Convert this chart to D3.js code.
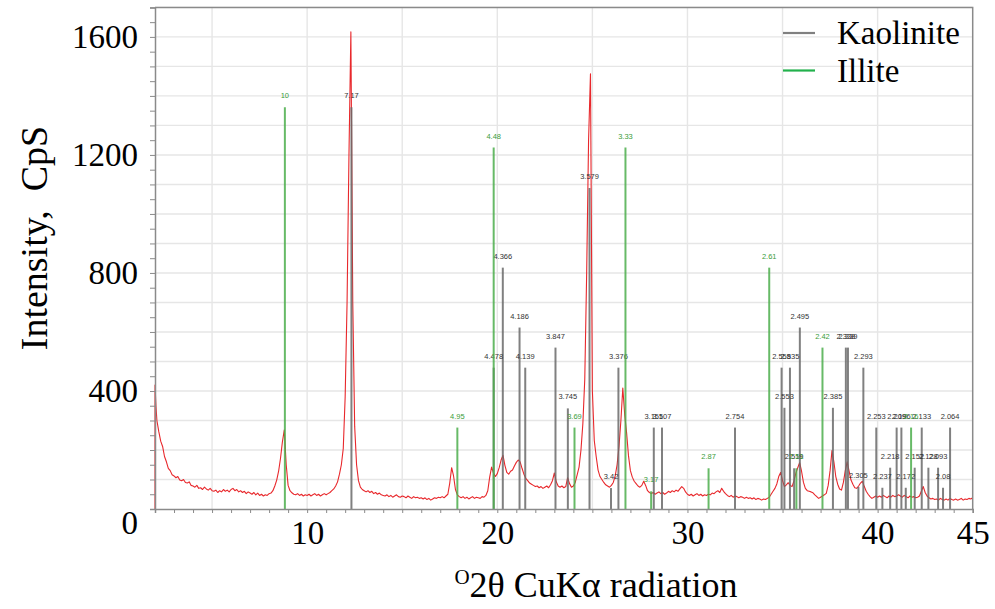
<!DOCTYPE html>
<html>
<head>
<meta charset="utf-8">
<script src="https://cdn.jsdelivr.net/npm/d3@7"></script>
<style>
  html, body { margin: 0; padding: 0; background: #ffffff; }
  svg { display: block; }
</style>
</head>
<body>
<svg id="chart" width="995" height="609"></svg>
<script>
// ---------------- DATA ----------------
// Measured scan (CpS) from 2.1 deg to 45.0 deg, step 0.1 deg 2-theta
const scanStart = 2.1;
const scanStep = 0.1;
const leadIn = [[2.0, 0], [2.0, 420], [2.05, 350]];
const counts = [
  300, 262, 230, 212, 178, 160, 138, 130, 116, 112,
  106, 110, 98, 96, 100, 90, 88, 92, 80, 78,
  74, 80, 70, 72, 66, 74, 68, 64, 70, 62,
  60, 64, 56, 62, 58, 66, 60, 64, 58, 66,
  70, 62, 66, 58, 62, 56, 60, 52, 58, 54,
  50, 56, 48, 54, 46, 50, 44, 48, 46, 52,
  54, 62, 78, 98, 128, 172, 228, 268, 150, 80,
  62, 55, 50, 48, 52, 46, 50, 44, 48, 46,
  50, 44, 48, 52, 46, 50, 44, 48, 52, 48,
  52, 56, 62, 68, 78, 92, 118, 150, 205, 380,
  700, 1200, 1617, 700, 280, 150, 96, 74, 66, 62,
  58, 62, 56, 60, 52, 56, 50, 54, 48, 46,
  44, 48, 42, 46, 40, 44, 48, 42, 40, 44,
  42, 38, 44, 40, 36, 42, 38, 40, 36, 38,
  34, 38, 32, 36, 30, 34, 38, 36, 40, 38,
  42, 38, 44, 50, 88, 140, 112, 66, 48, 42,
  38, 42, 36, 40, 34, 38, 42, 36, 40, 38,
  36, 42, 40, 46, 62, 108, 142, 122, 110, 120,
  140, 166, 182, 148, 124, 118, 128, 132, 146, 158,
  166, 160, 138, 118, 104, 96, 88, 84, 80, 76,
  78, 72, 76, 70, 74, 78, 72, 82, 96, 122,
  92, 78, 74, 78, 72, 76, 106, 86, 74, 78,
  90, 116, 142, 200, 290, 440, 800, 1250, 1475, 400,
  232, 178, 132, 110, 100, 90, 82, 78, 74, 80,
  90, 112, 150, 212, 300, 410, 320, 258, 180, 130,
  108, 94, 86, 78, 74, 80, 94, 80, 62, 56,
  52, 56, 50, 54, 58, 52, 56, 50, 54, 60,
  56, 62, 58, 64, 60, 68, 76, 70, 58, 50,
  46, 50, 44, 48, 52, 46, 50, 44, 48, 46,
  50, 48, 54, 52, 58, 62, 56, 70, 60, 52,
  46, 42, 46, 40, 44, 42, 38, 42, 40, 36,
  40, 36, 38, 34, 38, 32, 36, 34, 30, 34,
  32, 36, 40, 50, 60, 70, 85, 110, 124, 96,
  76, 82, 89, 80, 76, 95, 121, 140, 157, 128,
  90, 70, 62, 60, 58, 55, 48, 42, 36, 40,
  44, 48, 53, 80, 130, 198, 160, 110, 84, 68,
  64, 90, 130, 160, 128, 98, 84, 72, 70, 78,
  88, 94, 76, 60, 50, 42, 36, 40, 44, 40,
  44, 40, 46, 42, 38, 44, 40, 46, 42, 44,
  48, 44, 40, 46, 42, 38, 44, 40, 42, 38,
  40, 44, 60, 76, 56, 44, 38, 34, 36, 32,
  34, 30, 36, 32, 30, 34, 30, 36, 32, 30,
  34, 30, 32, 36, 30, 34, 32, 36, 34, 38
];

// Kaolinite reference sticks: 2-theta, intensity, d-spacing label
const kaoTheta = [12.33, 19.81, 20.29, 21.17, 21.47, 23.06, 23.71, 24.85, 25.98, 26.37,
  28.23, 28.66, 32.50, 34.95, 35.10, 35.39, 35.61, 35.91, 37.65, 38.33,
  38.44, 38.99, 39.25, 39.93, 40.25, 40.66, 41.00, 41.25, 41.48, 41.95,
  42.32, 42.67, 43.18, 43.44, 43.81];
const kaoInt = [1362, 479, 818, 615, 479, 547, 341, 1088, 71, 479,
  276, 276, 276, 479, 343, 479, 138, 615, 343, 547,
  547, 75, 479, 276, 72, 140, 276, 276, 72, 140,
  276, 140, 140, 72, 276];
const kaoLabel = ["7.17", "4.478", "4.366", "4.186", "4.139", "3.847", "3.745", "3.579", "3.42", "3.376",
  "3.155", "3.107", "2.754", "2.558", "2.553", "2.535", "2.519", "2.495", "2.385", "2.338",
  "2.339", "2.305", "2.293", "2.253", "2.237", "2.218", "2.209", "2.196", "2.172", "2.152",
  "2.133", "2.128", "2.093", "2.08", "2.064"];

// Illite reference sticks
const illTheta = [8.83, 17.90, 19.81, 24.06, 26.74, 28.09, 31.11, 34.30, 35.73, 37.10, 41.76];
const illInt = [1362, 276, 1225, 276, 1225, 60, 138, 818, 138, 547, 276];
const illLabel = ["10", "4.95", "4.48", "3.69", "3.33", "3.17", "2.87", "2.61", "2.51", "2.42", "2.16"];

const yTickLabels = [0, 400, 800, 1200, 1600];
const xTickLabels = [10, 20, 30, 40, 45];
const legendItems = ["Kaolinite", "Illite"];

// ---------------- CHART ----------------
const W = 995, H = 609;
const margin = { left: 155, right: 22.3, top: 7.4, bottom: 100 };
const svg = d3.select("#chart");
svg.append("rect").attr("width", W).attr("height", H).attr("fill", "#fff");

const x = d3.scaleLinear().domain([2, 45]).range([margin.left, W - margin.right]);
const y = d3.scaleLinear().domain([0, 1700]).range([H - margin.bottom, margin.top]);

const serif = "'Liberation Serif', 'Times New Roman', serif";

// grid
const grid = svg.append("g");
grid.selectAll("line.h").data(d3.range(100, 1701, 100)).join("line")
  .attr("x1", x(2)).attr("x2", x(45))
  .attr("y1", d => y(d)).attr("y2", d => y(d))
  .attr("stroke", "#e6e6e6").attr("stroke-width", 1.4);
grid.selectAll("line.v").data(d3.range(5, 45, 5)).join("line")
  .attr("y1", y(0)).attr("y2", y(1700))
  .attr("x1", d => x(d)).attr("x2", d => x(d))
  .attr("stroke", "#e6e6e6").attr("stroke-width", 1.4);

// trace
const trace = leadIn.map(d => d.slice()).concat(counts.map((c, i) => [scanStart + i * scanStep, c]));
svg.append("path")
  .datum(trace)
  .attr("fill", "none")
  .attr("stroke", "#e8282c")
  .attr("stroke-width", 1.1)
  .attr("stroke-linejoin", "round")
  .attr("d", d3.line().x(d => x(d[0])).y(d => y(d[1])));

// sticks
function sticks(thetas, ints, labels, color, textColor) {
  const data = thetas.map((t, i) => ({ t, v: ints[i], l: labels[i] }));
  const g = svg.append("g");
  g.selectAll("line").data(data).join("line")
    .attr("x1", d => x(d.t)).attr("x2", d => x(d.t))
    .attr("y1", y(0)).attr("y2", d => y(d.v))
    .attr("stroke", color).attr("stroke-width", 2).attr("stroke-opacity", 0.85);
  g.selectAll("text").data(data).join("text")
    .attr("x", d => x(d.t)).attr("y", d => y(d.v) - 9)
    .attr("text-anchor", "middle")
    .attr("font-family", "'Liberation Sans', Arial, sans-serif")
    .attr("font-size", 7.5)
    .attr("fill", textColor)
    .text(d => d.l);
}
sticks(kaoTheta, kaoInt, kaoLabel, "#6a6a6a", "#333");
sticks(illTheta, illInt, illLabel, "#4cae4c", "#3a9d3a");

// frame (top/right)
svg.append("path")
  .attr("d", `M${x(2)},${y(1700)}H${x(45)}V${y(0)}`)
  .attr("fill", "none").attr("stroke", "#8a8a8a").attr("stroke-width", 1.5);

// y axis
const yAxis = svg.append("g").attr("transform", `translate(${x(2)},0)`)
  .call(d3.axisLeft(y).tickValues(d3.range(0, 1701, 50)).tickSize(5).tickPadding(12)
    .tickFormat(d => yTickLabels.includes(d) ? String(d) : ""));
yAxis.select(".domain").attr("stroke", "#8a8a8a").attr("stroke-width", 1.5);
yAxis.selectAll(".tick line").attr("stroke", "#8a8a8a");
yAxis.selectAll(".tick text").attr("font-family", serif).attr("font-size", 33).attr("fill", "#000");
yAxis.selectAll(".tick").filter(d => d === 0).select("text").attr("dy", "0.75em");

// x axis
const xAxis = svg.append("g").attr("transform", `translate(0,${y(0)})`)
  .call(d3.axisBottom(x).tickValues(d3.range(2, 46, 1)).tickSize(4).tickPadding(8)
    .tickFormat(d => xTickLabels.includes(d) ? String(d) : ""));
xAxis.select(".domain").attr("stroke", "#8a8a8a").attr("stroke-width", 1.5);
xAxis.selectAll(".tick line").attr("stroke", "#8a8a8a");
xAxis.selectAll(".tick text").attr("font-family", serif).attr("font-size", 33).attr("fill", "#000");

// axis titles
svg.append("text")
  .attr("transform", "translate(47,238) rotate(-90)")
  .attr("text-anchor", "middle")
  .attr("font-family", serif).attr("font-size", 38).attr("fill", "#000")
  .attr("xml:space", "preserve")
  .text("Intensity,  CpS");

const xt = svg.append("text")
  .attr("x", 596).attr("y", 597)
  .attr("text-anchor", "middle")
  .attr("font-family", serif).attr("font-size", 36).attr("fill", "#000");
xt.append("tspan").attr("font-size", 21).attr("dy", -13).text("O");
xt.append("tspan").attr("dy", 13).text("2θ CuKα radiation");

// legend
const legColors = ["#808080", "#22b14c"];
const leg = svg.append("g");
legendItems.forEach((name, i) => {
  const cy = 33 + i * 37.5;
  leg.append("line").attr("x1", 783).attr("x2", 815).attr("y1", cy).attr("y2", cy)
    .attr("stroke", legColors[i]).attr("stroke-width", 2.2);
  leg.append("text").attr("x", 837).attr("y", cy + 11)
    .attr("font-family", serif).attr("font-size", 33).attr("fill", "#000").text(name);
});
</script>
</body>
</html>
